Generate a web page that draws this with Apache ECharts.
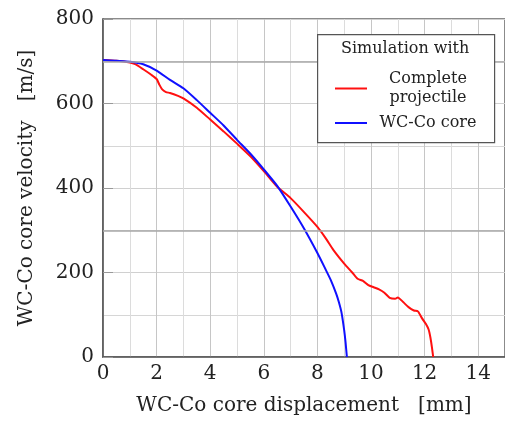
<!DOCTYPE html>
<html><head><meta charset="utf-8">
<script src="https://cdn.jsdelivr.net/npm/echarts@6/dist/echarts.min.js"></script>
<style>html,body{margin:0;padding:0;background:#fff}#c{width:505px;height:423px}</style>
</head><body><div id="c"></div>
<script>
// Red: complete projectile [displacement mm, velocity m/s]
const completeX = [0, 0.5, 1, 1.2, 1.5, 1.8, 2.0, 2.1, 2.2, 2.35, 2.5, 2.8, 3, 3.5, 4, 4.5, 5, 5.5, 6, 6.5, 7, 7.5, 8, 8.3, 8.6, 9, 9.3, 9.5, 9.7, 9.9, 10.1, 10.3, 10.5, 10.7, 10.9, 11.0, 11.2, 11.4, 11.6, 11.75, 11.9, 12.05, 12.15, 12.22, 12.28, 12.32];
const completeV = [703, 701, 697, 693, 681, 668, 658, 645, 634, 627, 625, 618, 612, 590, 562, 534, 505, 475, 440, 403, 376, 343, 308, 282, 253, 221, 200, 185, 180, 170, 165, 160, 152, 140, 138, 141, 130, 118, 110, 108, 92, 78, 65, 45, 20, 0];
// Blue: WC-Co core only
const coreX = [0, 0.5, 1, 1.5, 2, 2.5, 3, 3.5, 4, 4.5, 5, 5.5, 6, 6.5, 7, 7.5, 8, 8.3, 8.5, 8.7, 8.8, 8.9, 9.0, 9.05, 9.1];
const coreV = [703, 701, 699, 693, 678, 656, 636, 608, 578, 548, 514, 481, 444, 405, 356, 304, 246, 208, 182, 150, 130, 105, 63, 35, 0];
const seriesNames = ['Complete projectile', 'WC-Co core'];
const xTicks = [0, 2, 4, 6, 8, 10, 12, 14];
const yTicks = [0, 200, 400, 600, 800];
const darkGridY = [300, 700];

const pair = (xs, ys) => xs.map((x, i) => [x, ys[i]]);
const serif = 'DejaVu Serif';
const chart = echarts.init(document.getElementById('c'));
chart.setOption({
  animation: false,
  grid: { left: 103, right: -3, top: 19, bottom: 66, show: true, borderColor: '#666', borderWidth: 1.5 },
  xAxis: {
    type: 'value', min: 0, max: 15, interval: 2,
    name: 'WC-Co core displacement   [mm]', nameLocation: 'middle', nameGap: 39,
    nameTextStyle: { fontFamily: serif, fontSize: 20, color: '#222' },
    axisLine: { show: true, lineStyle: { color: '#555', width: 1.5 } },
    axisTick: { show: false },
    axisLabel: { fontFamily: serif, fontSize: 20, color: '#222', margin: 7, showMaxLabel: false,
      formatter: v => xTicks.includes(v) ? String(v) : '' },
    splitLine: { show: true, lineStyle: { color: '#c6c6c6', width: 1 } },
    minorTick: { show: false, splitNumber: 2 },
    minorSplitLine: { show: true, lineStyle: { color: '#dcdcdc', width: 1 } }
  },
  yAxis: {
    type: 'value', min: 0, max: 800, interval: 200,
    name: 'WC-Co core velocity   [m/s]', nameLocation: 'middle', nameGap: 66,
    nameTextStyle: { fontFamily: serif, fontSize: 20, color: '#222' },
    axisLine: { show: true, lineStyle: { color: '#555', width: 1.5 } },
    axisTick: { show: true, inside: true, length: 10, lineStyle: { color: '#999', width: 1 } },
    axisLabel: { fontFamily: serif, fontSize: 20, color: '#222', margin: 9,
      formatter: v => yTicks.includes(v) ? String(v) : '' },
    splitLine: { show: true, lineStyle: { color: '#d0d0d0', width: 1 } },
    minorTick: { show: false, splitNumber: 2 },
    minorSplitLine: { show: true, lineStyle: { color: '#d6d6d6', width: 1 } }
  },
  legend: {
    orient: 'vertical', left: 330, top: 66, itemWidth: 32, itemHeight: 2, itemGap: 9,
    icon: 'rect', backgroundColor: 'transparent', z: 20,
    data: seriesNames,
    formatter: n => n === seriesNames[0] ? '{t|Complete\nprojectile}' : '{t|' + n + '}',
    textStyle: { fontFamily: serif, fontSize: 16, color: '#222',
      rich: { t: { fontFamily: serif, fontSize: 16, color: '#222', width: 112, align: 'center', lineHeight: 19 } } }
  },
  graphic: [
    { type: 'rect', left: 317, top: 34, shape: { width: 177, height: 108 },
      style: { fill: '#fff', stroke: '#555', lineWidth: 1.2 }, z: 10 },
    { type: 'text', left: 341, top: 41, style: { text: 'Simulation with', fontFamily: serif, fontSize: 16, fill: '#222' }, z: 11 }
  ],
  series: [
    { name: seriesNames[0], type: 'line', data: pair(completeX, completeV), showSymbol: false, smooth: 0.2,
      lineStyle: { color: '#ff1010', width: 2 }, itemStyle: { color: '#ff1010' }, z: 3,
      markLine: { silent: true, symbol: 'none', label: { show: false },
        lineStyle: { color: '#a8a8a8', width: 1.5, type: 'solid' },
        data: darkGridY.map(v => ({ yAxis: v })) } },
    { name: seriesNames[1], type: 'line', data: pair(coreX, coreV), showSymbol: false, smooth: 0.2,
      lineStyle: { color: '#1010ff', width: 2 }, itemStyle: { color: '#1010ff' }, z: 4 }
  ]
});
</script></body></html>
